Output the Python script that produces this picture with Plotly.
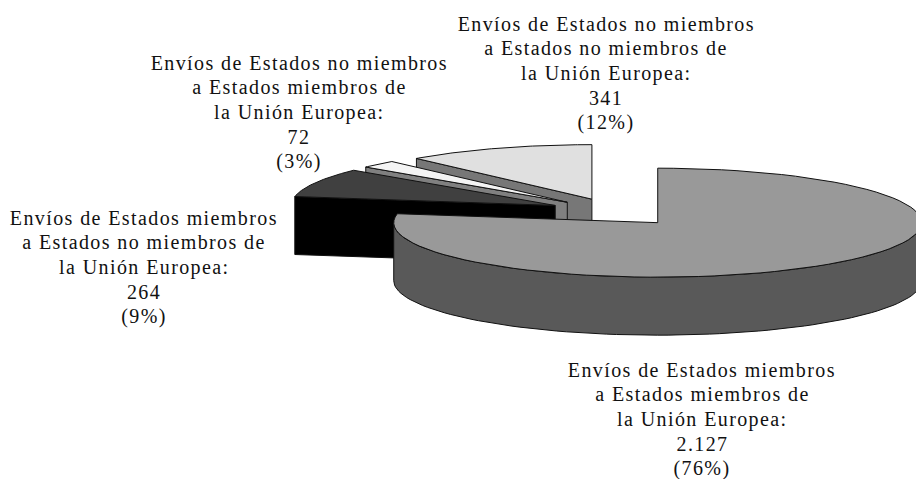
import math
import plotly.graph_objects as go

# --- data ---
categories = [
    "Envíos de Estados miembros<br>a Estados miembros de<br>la Unión Europea:",
    "Envíos de Estados miembros<br>a Estados no miembros de<br>la Unión Europea:",
    "Envíos de Estados no miembros<br>a Estados miembros de<br>la Unión Europea:",
    "Envíos de Estados no miembros<br>a Estados no miembros de<br>la Unión Europea:",
]
values = [2127, 264, 72, 341]
value_labels = ["2.127", "264", "72", "341"]
percent_labels = ["(76%)", "(9%)", "(3%)", "(12%)"]

# --- styling / layout ---
top_colors = ["#999999", "#404040", "#f4f4f4", "#e0e0e0"]
wall_colors = ["#595959", "#000000", "#808080", "#777777"]
label_x = [702, 144, 299, 606]
label_y = [419, 267, 112, 73]
LINE_STEP = 24.7
nudge_x = [0.0, 0.0, 0.0, 1.0]
nudge_y = [0.0, -1.5, 0.0, 0.8]
W, H = 916, 479
BASE_X, BASE_Y = 614.4, 212.0
RX, RY, DEPTH = 264.0, 54.5, 58.0
EXPLODE_X, EXPLODE_Y = 63.0, 14.7
SKEW_DEG = 6.4   # angular foreshortening of the 3-D view


def view_angle(a):
    """Angle in degrees on the disc -> angle on the drawn ellipse."""
    s = abs(math.sin(math.radians(a)))
    return a + SKEW_DEG * s ** 3 if a > 180 else a


def rim(cx, cy, a0, a1, dy=0.0, n=80):
    pts = []
    for i in range(n + 1):
        t = math.radians(a0 + (a1 - a0) * i / n)
        pts.append((cx + RX * math.sin(t), cy - RY * math.cos(t) + dy))
    return pts


def poly(fig, pts, color):
    fig.add_trace(go.Scatter(
        x=[p[0] for p in pts] + [pts[0][0]],
        y=[p[1] for p in pts] + [pts[0][1]],
        mode="lines", fill="toself", fillcolor=color,
        line=dict(color="#111111", width=1), hoverinfo="skip", showlegend=False,
    ))


total = sum(values)
angles = []
acc = 0.0
for v in values:
    a0 = acc / total * 360
    acc += v
    angles.append((a0, acc / total * 360))

fig = go.Figure()
# painter's order: back slices first
for i in [3, 2, 1, 0]:
    a0, a1 = angles[i]
    mid = math.radians((a0 + a1) / 2)
    cx = BASE_X + EXPLODE_X * math.sin(mid) + nudge_x[i]
    cy = BASE_Y - EXPLODE_Y * math.cos(mid) + nudge_y[i]
    v0, v1 = view_angle(a0), view_angle(a1)
    if i == 0:
        # outer wall of the large slice (front half of the rim)
        front = rim(cx, cy, 90, 270)
        poly(fig, front + [(x, y + DEPTH) for x, y in reversed(front)], wall_colors[i])
    else:
        # radial wall facing the viewer
        tx = cx + RX * math.sin(math.radians(v0))
        ty = cy - RY * math.cos(math.radians(v0))
        poly(fig, [(tx, ty), (cx, cy), (cx, cy + DEPTH), (tx, ty + DEPTH)], wall_colors[i])
    poly(fig, [(cx, cy)] + rim(cx, cy, v0, v1), top_colors[i])

for i, name in enumerate(categories):
    lines = name.split("<br>") + [value_labels[i], percent_labels[i]]
    for j, line in enumerate(lines):
        fig.add_annotation(
            x=label_x[i], y=label_y[i] + (j - (len(lines) - 1) / 2) * LINE_STEP,
            xref="x", yref="y", text=line,
            showarrow=False, align="center", xanchor="center", yanchor="middle",
            font=dict(family="Liberation Serif", size=20, color="#111111"),
        )

fig.update_layout(
    width=W, height=H, margin=dict(l=0, r=0, t=0, b=0),
    paper_bgcolor="white", plot_bgcolor="white", showlegend=False,
    xaxis=dict(range=[0, W], visible=False, fixedrange=True),
    yaxis=dict(range=[H, 0], visible=False, fixedrange=True),
)
css = ("var s=document.createElement('style');"
       "s.textContent='html,body{margin:0;padding:0;overflow:hidden}"
       ".annotation-text{letter-spacing:1.4px}';"
       "document.head.appendChild(s);")
fig.write_html("out.html", post_script=css, config={"displayModeBar": False})
